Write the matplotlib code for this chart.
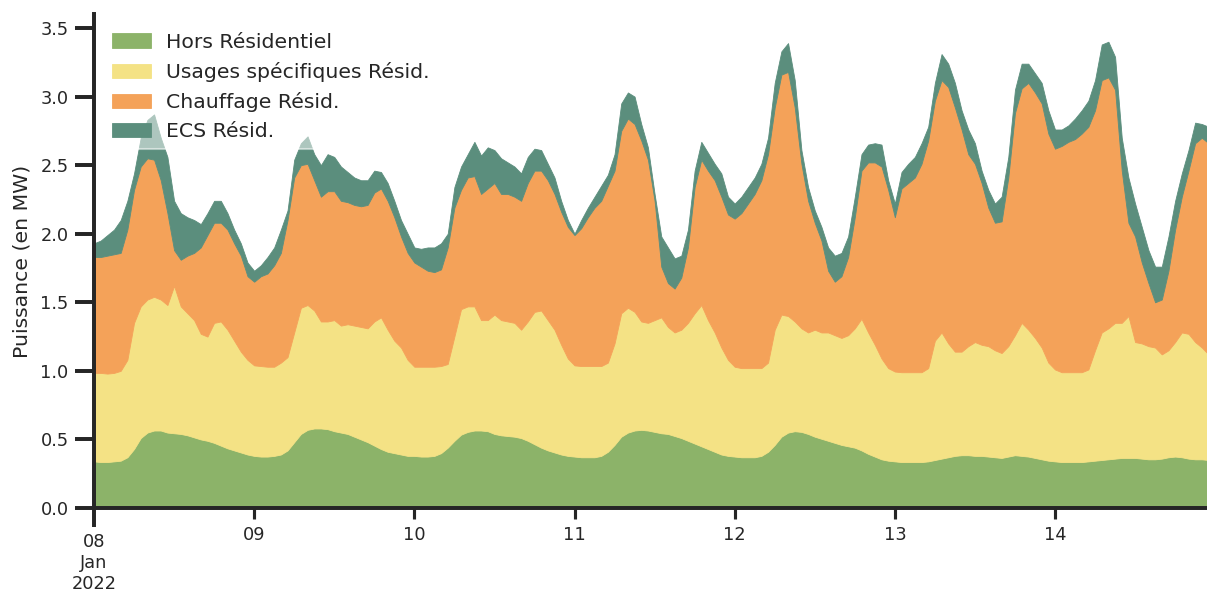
import numpy as np
import pandas as pd
import matplotlib as mpl
mpl.use('Agg')
import matplotlib.pyplot as plt
import matplotlib.dates as mdates
from matplotlib.ticker import FixedLocator, FixedFormatter

# Stacked levels (MW), hourly, 08/01/2022 00h -> 14/01/2022 23h
# (one line per day). Each series is the gap between two consecutive levels.
niveau_hors = [
    0.34, 0.335, 0.335, 0.34, 0.345, 0.37, 0.43, 0.51, 0.55, 0.565, 0.565, 0.55, 0.545, 0.54, 0.53, 0.515, 0.50, 0.49, 0.475, 0.455, 0.435, 0.42, 0.405, 0.39,
    0.38, 0.375, 0.375, 0.38, 0.39, 0.42, 0.48, 0.54, 0.57, 0.58, 0.58, 0.575, 0.56, 0.55, 0.54, 0.52, 0.50, 0.48, 0.455, 0.43, 0.41, 0.40, 0.39, 0.38,
    0.38, 0.375, 0.375, 0.38, 0.40, 0.44, 0.49, 0.535, 0.555, 0.565, 0.565, 0.56, 0.54, 0.53, 0.525, 0.52, 0.51, 0.49, 0.465, 0.44, 0.42, 0.405, 0.39, 0.38,
    0.375, 0.37, 0.37, 0.37, 0.38, 0.41, 0.46, 0.52, 0.55, 0.565, 0.57, 0.565, 0.555, 0.545, 0.54, 0.525, 0.51, 0.49, 0.47, 0.45, 0.43, 0.41, 0.39, 0.38,
    0.375, 0.37, 0.37, 0.37, 0.38, 0.41, 0.46, 0.52, 0.55, 0.56, 0.555, 0.54, 0.52, 0.505, 0.49, 0.475, 0.46, 0.45, 0.44, 0.42, 0.395, 0.375, 0.355, 0.345,
    0.34, 0.335, 0.335, 0.335, 0.335, 0.34, 0.35, 0.36, 0.37, 0.38, 0.385, 0.385, 0.38, 0.38, 0.375, 0.37, 0.365, 0.375, 0.385, 0.38, 0.375, 0.365, 0.355, 0.345,
    0.34, 0.335, 0.335, 0.335, 0.335, 0.34, 0.345, 0.35, 0.355, 0.36, 0.365, 0.365, 0.365, 0.36, 0.355, 0.355, 0.36, 0.37, 0.375, 0.37, 0.36, 0.355, 0.355, 0.35,
]
niveau_usages = [
    0.985, 0.985, 0.98, 0.985, 1.0, 1.08, 1.35, 1.47, 1.52, 1.54, 1.52, 1.48, 1.62, 1.47, 1.42, 1.37, 1.27, 1.25, 1.35, 1.36, 1.30, 1.22, 1.14, 1.08,
    1.04, 1.035, 1.03, 1.03, 1.06, 1.10, 1.28, 1.46, 1.48, 1.44, 1.36, 1.36, 1.37, 1.33, 1.34, 1.33, 1.32, 1.31, 1.36, 1.39, 1.30, 1.22, 1.17, 1.08,
    1.03, 1.03, 1.03, 1.03, 1.035, 1.05, 1.25, 1.45, 1.47, 1.47, 1.37, 1.37, 1.41, 1.37, 1.36, 1.35, 1.30, 1.36, 1.43, 1.44, 1.37, 1.30, 1.19, 1.09,
    1.04, 1.035, 1.035, 1.035, 1.035, 1.06, 1.20, 1.42, 1.46, 1.43, 1.36, 1.35, 1.37, 1.39, 1.32, 1.28, 1.30, 1.35, 1.42, 1.48, 1.37, 1.28, 1.17, 1.08,
    1.03, 1.02, 1.02, 1.02, 1.02, 1.06, 1.30, 1.41, 1.40, 1.36, 1.31, 1.28, 1.30, 1.28, 1.28, 1.26, 1.24, 1.26, 1.31, 1.38, 1.28, 1.19, 1.09, 1.02,
    0.995, 0.99, 0.99, 0.99, 0.99, 1.02, 1.22, 1.28, 1.20, 1.14, 1.14, 1.18, 1.21, 1.19, 1.18, 1.15, 1.13, 1.18, 1.26, 1.35, 1.30, 1.24, 1.17, 1.06,
    1.01, 0.99, 0.99, 0.99, 0.99, 1.01, 1.15, 1.28, 1.31, 1.35, 1.35, 1.40, 1.21, 1.20, 1.18, 1.17, 1.12, 1.15, 1.21, 1.28, 1.27, 1.21, 1.17, 1.12,
]
niveau_chauffage = [
    1.83, 1.83, 1.84, 1.85, 1.86, 2.03, 2.32, 2.49, 2.55, 2.54, 2.39, 2.15, 1.88, 1.81, 1.84, 1.86, 1.90, 1.99, 2.08, 2.08, 2.03, 1.93, 1.84, 1.69,
    1.65, 1.69, 1.71, 1.77, 1.86, 2.10, 2.41, 2.50, 2.51, 2.39, 2.27, 2.31, 2.31, 2.24, 2.23, 2.21, 2.20, 2.21, 2.30, 2.33, 2.24, 2.12, 1.98, 1.86,
    1.79, 1.76, 1.73, 1.72, 1.74, 1.90, 2.19, 2.32, 2.41, 2.42, 2.29, 2.33, 2.37, 2.29, 2.29, 2.27, 2.24, 2.37, 2.46, 2.46, 2.39, 2.29, 2.16, 2.05,
    1.99, 2.04, 2.12, 2.19, 2.24, 2.35, 2.46, 2.75, 2.84, 2.80, 2.68, 2.54, 2.24, 1.76, 1.64, 1.60, 1.68, 1.90, 2.34, 2.54, 2.46, 2.39, 2.27, 2.14,
    2.11, 2.15, 2.22, 2.29, 2.39, 2.58, 2.92, 3.16, 3.18, 2.92, 2.51, 2.24, 2.08, 1.95, 1.73, 1.65, 1.69, 1.83, 2.12, 2.46, 2.52, 2.52, 2.49, 2.32,
    2.12, 2.33, 2.37, 2.41, 2.51, 2.68, 2.97, 3.12, 3.07, 2.92, 2.76, 2.58, 2.51, 2.37, 2.19, 2.08, 2.09, 2.41, 2.88, 3.06, 3.10, 3.03, 2.95, 2.73,
    2.62, 2.64, 2.67, 2.69, 2.73, 2.78, 2.90, 3.12, 3.14, 3.05, 2.46, 2.08, 1.98, 1.79, 1.64, 1.50, 1.52, 1.73, 2.03, 2.27, 2.46, 2.66, 2.70, 2.66,
]
niveau_ecs = [
    1.93, 1.95, 1.99, 2.03, 2.10, 2.24, 2.44, 2.70, 2.83, 2.87, 2.70, 2.56, 2.24, 2.15, 2.12, 2.10, 2.07, 2.15, 2.24, 2.24, 2.15, 2.03, 1.93, 1.79,
    1.73, 1.77, 1.83, 1.90, 2.03, 2.17, 2.54, 2.66, 2.71, 2.58, 2.50, 2.58, 2.56, 2.49, 2.45, 2.41, 2.39, 2.39, 2.46, 2.45, 2.37, 2.24, 2.10, 2.00,
    1.90, 1.89, 1.90, 1.90, 1.93, 2.00, 2.34, 2.49, 2.58, 2.67, 2.57, 2.63, 2.61, 2.55, 2.52, 2.49, 2.44, 2.56, 2.62, 2.61, 2.51, 2.41, 2.24, 2.10,
    2.00, 2.10, 2.19, 2.27, 2.35, 2.43, 2.58, 2.95, 3.03, 3.00, 2.80, 2.63, 2.29, 1.98, 1.90, 1.82, 1.84, 2.03, 2.46, 2.67, 2.59, 2.51, 2.44, 2.27,
    2.22, 2.27, 2.34, 2.41, 2.51, 2.70, 3.10, 3.33, 3.39, 3.12, 2.61, 2.34, 2.17, 2.05, 1.90, 1.84, 1.86, 1.98, 2.27, 2.58, 2.65, 2.66, 2.65, 2.39,
    2.22, 2.45, 2.51, 2.56, 2.66, 2.78, 3.10, 3.31, 3.24, 3.10, 2.90, 2.76, 2.66, 2.46, 2.32, 2.22, 2.27, 2.56, 3.05, 3.24, 3.24, 3.17, 3.10, 2.90,
    2.76, 2.76, 2.79, 2.84, 2.90, 2.97, 3.12, 3.38, 3.40, 3.29, 2.70, 2.41, 2.22, 2.05, 1.88, 1.76, 1.76, 1.98, 2.24, 2.44, 2.61, 2.81, 2.80, 2.78,
]

labels = ["Hors Résidentiel", "Usages spécifiques Résid.", "Chauffage Résid.", "ECS Résid."]
colors = ["#8cb369", "#f4e285", "#f4a259", "#5b8e7d"]

levels = np.array([niveau_hors, niveau_usages, niveau_chauffage, niveau_ecs])
series = np.diff(np.vstack([np.zeros(levels.shape[1]), levels]), axis=0)
times = pd.date_range("2022-01-08", periods=levels.shape[1], freq="h")

dark = "0.15"
plt.rcParams.update({
    "font.family": "DejaVu Sans",
    "text.color": dark,
    "axes.labelcolor": dark,
    "xtick.color": dark,
    "ytick.color": dark,
    "axes.edgecolor": dark,
})

dpi = 150
fig = plt.figure(figsize=(1207 / dpi, 593 / dpi), dpi=dpi)
ax = fig.add_axes([94 / 1207, 85 / 593, 1114.5 / 1207, 493.7 / 593])

ax.stackplot(times, *series, colors=colors, labels=labels, linewidth=0.4,
             edgecolor="face")

ax.set_xlim(times[0], times[-1])
ax.set_ylim(0, 3.6)
ax.set_yticks(np.arange(0, 3.51, 0.5))
ax.yaxis.set_major_formatter(mpl.ticker.FormatStrFormatter("%.1f"))

ax.xaxis.set_major_locator(FixedLocator([mdates.date2num(times[0])]))
ax.xaxis.set_major_formatter(FixedFormatter(["08\nJan\n2022"]))
ax.xaxis.set_minor_locator(mdates.DayLocator(bymonthday=range(9, 15)))
ax.xaxis.set_minor_formatter(mdates.DateFormatter("%d"))

for side in ["top", "right"]:
    ax.spines[side].set_visible(False)
for side in ["left", "bottom"]:
    ax.spines[side].set_linewidth(1.9)

ax.tick_params(which="major", length=9, width=1.9, labelsize=8.5, pad=3)
ax.tick_params(which="minor", length=5.5, width=1.5, labelsize=8.5, pad=3)
ax.tick_params(axis="y", pad=3.2)

ax.set_ylabel("Puissance (en MW)", fontsize=9.8, labelpad=4)

ax.legend(loc="upper left", fontsize=9.8, framealpha=0.5, edgecolor="white",
          handlelength=1.9, handleheight=0.7, labelspacing=0.5,
          borderpad=0.4, borderaxespad=0.5, handletextpad=0.72)

fig.savefig("out.png", dpi=dpi)
